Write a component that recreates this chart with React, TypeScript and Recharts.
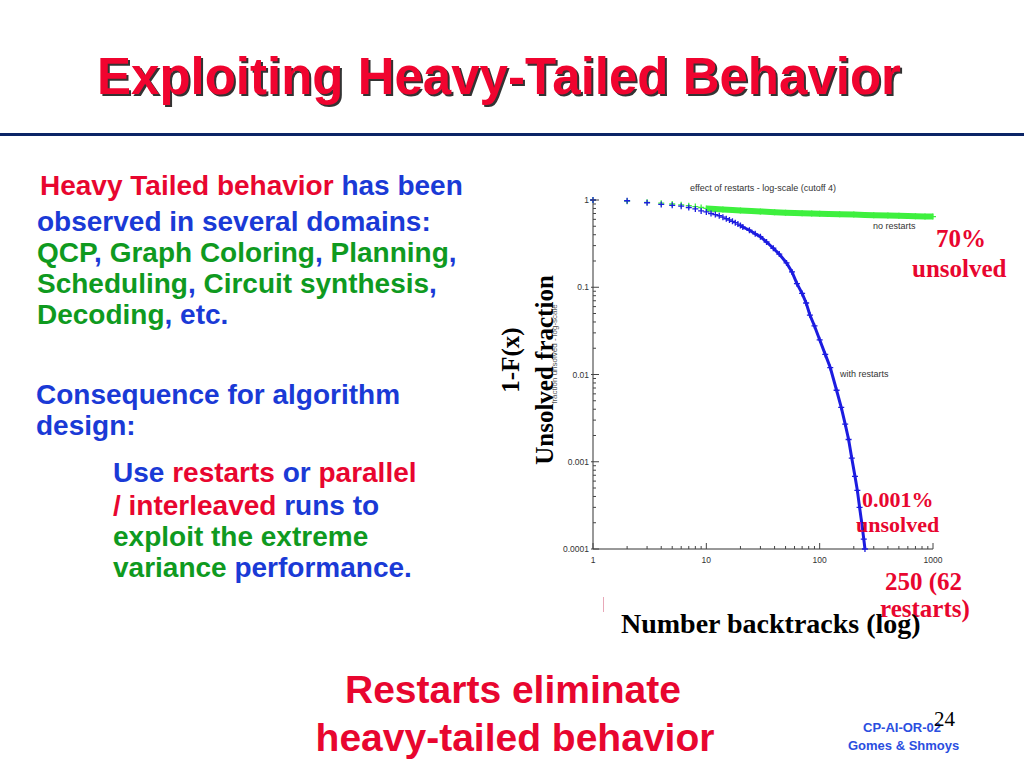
import React from 'react';
import { ScatterChart, Scatter, XAxis, YAxis } from 'recharts';

// ---- data ----
const BLUE_X = [1, 2, 3, 4, 5, 6, 7, 8, 9, 10, 11, 12, 13, 14, 15, 16, 17, 18, 19, 20, 21, 24, 27, 30, 34, 39, 44, 51, 57, 63, 70, 76, 82, 90, 100, 112, 124, 141, 155, 168, 180, 192, 205, 215, 225, 235, 245, 251];
const BLUE_Y = [1, 0.98, 0.93, 0.89, 0.87, 0.85, 0.82, 0.79, 0.75, 0.73, 0.7, 0.68, 0.66, 0.635, 0.61, 0.59, 0.57, 0.55, 0.53, 0.51, 0.49, 0.45, 0.41, 0.38, 0.33, 0.28, 0.24, 0.19, 0.15, 0.11, 0.085, 0.066, 0.048, 0.036, 0.025, 0.017, 0.012, 0.0066, 0.0042, 0.0027, 0.0018, 0.0011, 0.00068, 0.00047, 0.0003, 0.0002, 0.00013, 0.0001];
const GREEN_X = [1, 2, 3, 4, 5, 6, 7, 8, 9, 10, 12, 14, 17, 20, 25, 30, 40, 50, 60, 70, 85, 100, 120, 150, 200, 250, 300, 400, 500, 600, 700, 850, 1000];
const GREEN_Y = [1, 0.97, 0.94, 0.92, 0.9, 0.88, 0.86, 0.84, 0.82, 0.8, 0.79, 0.78, 0.77, 0.76, 0.75, 0.74, 0.725, 0.715, 0.71, 0.705, 0.7, 0.695, 0.69, 0.685, 0.68, 0.675, 0.67, 0.665, 0.66, 0.655, 0.652, 0.648, 0.645];
const X_TICKS = [1, 2, 3, 4, 5, 6, 7, 8, 9, 10, 20, 30, 40, 50, 60, 70, 80, 90, 100, 200, 300, 400, 500, 600, 700, 800, 900, 1000];
const Y_TICKS = [0.0001, 0.0002, 0.0003, 0.0004, 0.0005, 0.0006, 0.0007, 0.0008, 0.0009, 0.001, 0.002, 0.003, 0.004, 0.005, 0.006, 0.007, 0.008, 0.009, 0.01, 0.02, 0.03, 0.04, 0.05, 0.06, 0.07, 0.08, 0.09, 0.1, 0.2, 0.3, 0.4, 0.5, 0.6, 0.7, 0.8, 0.9, 1];
const CHART_TITLE = 'effect of restarts - log-scale (cutoff 4)';
const Y_AXIS_NAME = 'fraction unsolved - log-scale';

const blueData = BLUE_X.map((x, i) => ({ x, y: BLUE_Y[i] }));
const greenData = GREEN_X.map((x, i) => ({ x, y: GREEN_Y[i] }));
const blueBand = blueData.filter((d) => d.x >= 20);
const greenBand = greenData.filter((d) => d.x >= 10);

const RED = '#e8062f';
const BLUE = '#1a3ad6';
const GREEN = '#0f9a1f';
const PLOT_BLUE = '#1c1ce0';
const PLOT_GREEN = '#3ef03e';
const SANS = '"Liberation Sans", Arial, Helvetica, sans-serif';
const NARROW = '"Liberation Sans Narrow", "Liberation Sans", Arial, sans-serif';
const SERIF = '"Liberation Serif", "Times New Roman", serif';

const isMajor = (v: number) => Math.abs(Math.log10(v) - Math.round(Math.log10(v))) < 1e-6;
const M = 4;
const TICK_COLOR = '#444';

const BottomTick = (p: any) => {
  const { x, y, payload } = p;
  const ay = y - M;
  const maj = isMajor(payload.value);
  return (
    <g>
      <line x1={x} x2={x} y1={ay} y2={ay - (maj ? 6 : 3)} stroke={TICK_COLOR} strokeWidth={1} />
      {maj && (
        <text x={x} y={ay + 14} textAnchor="middle" fontSize={8.5} fill="#333" fontFamily={NARROW}>
          {payload.value}
        </text>
      )}
    </g>
  );
};
const TopTick = (p: any) => {
  const { x, y, payload } = p;
  const ay = y + M;
  const maj = isMajor(payload.value);
  return <line x1={x} x2={x} y1={ay} y2={ay + (maj ? 6 : 3)} stroke={TICK_COLOR} strokeWidth={1} />;
};
const LeftTick = (p: any) => {
  const { x, y, payload } = p;
  const ax = x + M;
  const maj = isMajor(payload.value);
  return (
    <g>
      <line x1={maj ? ax - 2 : ax} x2={ax + (maj ? 6 : 3)} y1={y} y2={y} stroke={TICK_COLOR} strokeWidth={1} />
      {maj && (
        <text x={ax - 4} y={y + 3} textAnchor="end" fontSize={8.5} fill="#333" fontFamily={NARROW}>
          {String(payload.value)}
        </text>
      )}
    </g>
  );
};
const RightTick = (p: any) => {
  const { x, y, payload } = p;
  const ax = x - M;
  const maj = isMajor(payload.value);
  return <line x1={ax} x2={ax - (maj ? 6 : 3)} y1={y} y2={y} stroke={TICK_COLOR} strokeWidth={1} />;
};

const plus = (color: string, s: number) => (p: any) => {
  const { cx, cy } = p;
  if (cx == null || cy == null) return <g />;
  return (
    <path d={`M${cx - s},${cy}H${cx + s}M${cx},${cy - s}V${cy + s}`} stroke={color} strokeWidth={1.3} fill="none" />
  );
};
const none = () => <g />;

const T = ({ left, top, size, color = '#000', bold = true, font = SANS, lh, children, style }: any) => (
  <div
    style={{
      position: 'absolute',
      left,
      top,
      fontSize: size,
      lineHeight: `${lh ?? Math.round(size * 1.1)}px`,
      fontWeight: bold ? 'bold' : 'normal',
      fontFamily: font,
      color,
      whiteSpace: 'nowrap',
      ...style,
    }}
  >
    {children}
  </div>
);
const R = ({ children }: any) => <span style={{ color: RED }}>{children}</span>;
const B = ({ children }: any) => <span style={{ color: BLUE }}>{children}</span>;
const G = ({ children }: any) => <span style={{ color: GREEN }}>{children}</span>;

export default function App() {
  return (
    <div style={{ position: 'absolute', left: 0, top: 0, width: 1024, height: 768, background: '#fff', overflow: 'hidden' }}>
      {/* title */}
      <T left={97} top={52} size={51} color="#f0042f" lh={50} style={{ textShadow: '2px 2px 0 #333' }}>
        Exploiting Heavy-Tailed Behavior
      </T>
      <div style={{ position: 'absolute', left: 0, top: 133, width: 1024, height: 3, background: '#0b2466' }} />

      {/* left text */}
      <T left={40} top={170} size={28} lh={31}><R>Heavy Tailed behavior</R> <B>has been</B></T>
      <T left={37} top={206} size={28} lh={31}><B>observed in several domains:</B></T>
      <T left={37} top={237} size={28} lh={31}><G>QCP</G><B>,</B> <G>Graph Coloring</G><B>,</B> <G>Planning</G><B>,</B></T>
      <T left={37} top={268} size={28} lh={31}><G>Scheduling</G><B>,</B> <G>Circuit synthesis</G><B>,</B></T>
      <T left={37} top={299} size={28} lh={31}><G>Decoding</G><B>, etc.</B></T>
      <T left={36} top={379} size={28} lh={31}><B>Consequence for algorithm</B></T>
      <T left={36} top={410} size={28} lh={31}><B>design:</B></T>
      <T left={113} top={457} size={28} lh={31}><B>Use</B> <R>restarts</R> <B>or</B> <R>parallel</R></T>
      <T left={113} top={490} size={28} lh={31}><R>/ interleaved</R> <B>runs to</B></T>
      <T left={113} top={521} size={28} lh={31}><G>exploit the extreme</G></T>
      <T left={113} top={552} size={28} lh={31}><G>variance</G> <B>performance.</B></T>

      {/* chart */}
      <div style={{ position: 'absolute', left: 540, top: 170, width: 420, height: 400 }}>
        <ScatterChart width={420} height={400} margin={{ top: 30, right: 27, bottom: 1, left: 13 }}>
          <XAxis
            xAxisId="b"
            dataKey="x"
            type="number"
            scale="log"
            domain={[1, 1000]}
            ticks={X_TICKS}
            interval={0}
            height={20}
            tickSize={0}
            tickMargin={M}
            tick={<BottomTick />}
            axisLine={{ stroke: '#333' }}
          />
          <XAxis
            xAxisId="t"
            dataKey="x"
            type="number"
            scale="log"
            orientation="top"
            domain={[1, 1000]}
            ticks={X_TICKS}
            interval={0}
            height={0}
            tickSize={0}
            tickMargin={M}
            tick={<TopTick />}
            axisLine={{ stroke: '#333' }}
          />
          <YAxis
            yAxisId="l"
            dataKey="y"
            type="number"
            scale="log"
            domain={[0.0001, 1]}
            ticks={Y_TICKS}
            interval={0}
            width={40}
            tickSize={0}
            tickMargin={M}
            tick={<LeftTick />}
            axisLine={{ stroke: '#333' }}
          />
          <YAxis
            yAxisId="r"
            dataKey="y"
            type="number"
            scale="log"
            orientation="right"
            domain={[0.0001, 1]}
            ticks={Y_TICKS}
            interval={0}
            width={0}
            tickSize={0}
            tickMargin={M}
            tick={<RightTick />}
            axisLine={{ stroke: '#333' }}
          />
          <Scatter xAxisId="t" yAxisId="r" data={greenBand} shape={none} isAnimationActive={false} />
          <Scatter xAxisId="b" yAxisId="l" data={greenBand} shape={none} line={{ stroke: PLOT_GREEN, strokeWidth: 6 }} isAnimationActive={false} />
          <Scatter xAxisId="b" yAxisId="l" data={greenData} shape={plus(PLOT_GREEN, 3)} isAnimationActive={false} />
          <Scatter xAxisId="b" yAxisId="l" data={blueBand} shape={none} line={{ stroke: PLOT_BLUE, strokeWidth: 3 }} isAnimationActive={false} />
          <Scatter xAxisId="b" yAxisId="l" data={blueData} shape={plus(PLOT_BLUE, 3)} isAnimationActive={false} />
        </ScatterChart>
      </div>
      <T left={763} top={182} size={9} bold={false} font={NARROW} color="#333" lh={12} style={{ transform: 'translateX(-50%)' }}>
        {CHART_TITLE}
      </T>
      <T left={873} top={220} size={9} bold={false} font={NARROW} color="#333" lh={12}>no restarts</T>
      <T left={840} top={368} size={9} bold={false} font={NARROW} color="#333" lh={12}>with restarts</T>
      <T left={555} top={354} size={8} bold={false} font={SANS} color="#555" lh={10} style={{ transform: 'translate(-50%,-50%) rotate(-90deg)' }}>
        {Y_AXIS_NAME}
      </T>

      {/* annotations */}
      <T left={511} top={360} size={25} font={SERIF} lh={26} style={{ transform: 'translate(-50%,-50%) rotate(-90deg)' }}>1-F(x)</T>
      <T left={545} top={370} size={25} font={SERIF} lh={26} style={{ transform: 'translate(-50%,-50%) rotate(-90deg)' }}>Unsolved fraction</T>
      <T left={936} top={225} size={25} font={SERIF} color={RED} lh={28}>70%</T>
      <T left={912} top={255} size={25} font={SERIF} color={RED} lh={28}>unsolved</T>
      <T left={862} top={488} size={22} font={SERIF} color={RED} lh={24}>0.001%</T>
      <T left={856} top={513} size={22} font={SERIF} color={RED} lh={24}>unsolved</T>
      <T left={885} top={568} size={25} font={SERIF} color={RED} lh={28}>250 (62</T>
      <T left={880} top={595} size={25} font={SERIF} color={RED} lh={28}>restarts)</T>
      <T left={621} top={609} size={28} font={SERIF} lh={30}>Number backtracks (log)</T>
      <div style={{ position: 'absolute', left: 603, top: 597, width: 1, height: 15, background: '#e8a8b8' }} />

      {/* bottom */}
      <T left={513} top={667} size={39} color={RED} lh={46} style={{ transform: 'translateX(-50%)' }}>Restarts eliminate</T>
      <T left={515} top={715} size={39} color={RED} lh={46} style={{ transform: 'translateX(-50%)' }}>heavy-tailed behavior</T>
      <T left={863} top={720} size={13} color="#2a4ee0" lh={16}>CP-AI-OR-02</T>
      <T left={848} top={738} size={13} color="#2a4ee0" lh={16}>Gomes &amp; Shmoys</T>
      <T left={934} top={707} size={21} bold={false} font={SERIF} lh={24}>24</T>
    </div>
  );
}
